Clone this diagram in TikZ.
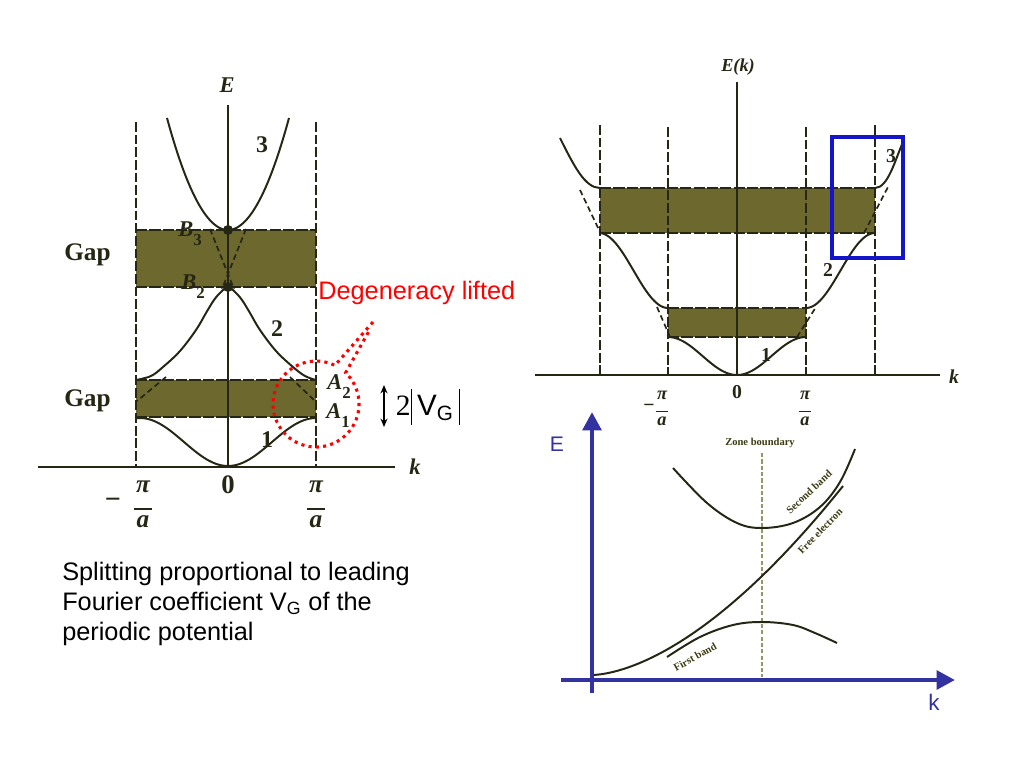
\documentclass[tikz,border=0pt]{standalone}
\usepackage{fontspec}
\setmainfont{Liberation Serif}
\setsansfont{Liberation Sans}
\usetikzlibrary{arrows.meta}
\definecolor{ink}{RGB}{38,38,20}
\definecolor{gapfill}{RGB}{108,104,46}
\definecolor{axblue}{RGB}{50,50,160}
\definecolor{boxblue}{RGB}{20,20,200}
\definecolor{zone}{RGB}{150,150,100}
\definecolor{lbl}{RGB}{60,60,20}
\newcommand\pxfont[1]{\fontsize{#1}{#1}\selectfont}
\newcommand\subl[1]{\raisebox{-0.4em}{\pxfont{12}\bfseries\upshape #1}}
\newcommand\pifrac{\bfseries\itshape\begin{tabular}{@{}c@{}}π\\[-0.32em]\rule{0.7em}{0.08em}\\[-0.28em]a\end{tabular}}
\begin{document}
\begin{tikzpicture}[x=0.025cm,y=-0.025cm,
  band/.style={ink,line width=1.4pt},
  zbline/.style={ink,line width=1.3pt,dash pattern=on 7pt off 2pt},
  feline/.style={ink,line width=1.2pt,dash pattern=on 4pt off 2.5pt},
  gapedge/.style={ink,line width=1.2pt,dash pattern=on 8pt off 1.5pt},
  axisline/.style={ink,line width=1.4pt},
  lab/.style={inner sep=0pt,text=ink},
  reddot/.style={red,line width=2.2pt,dash pattern=on 2.2pt off 3pt},
  blueaxis/.style={axblue,line width=3.5pt,-{Triangle[length=13pt,width=13pt]}},
  smalllab/.style={inner sep=0pt,text=lbl,font=\bfseries\pxfont{7.5}},
  sanstext/.style={inner sep=0pt,font=\sffamily\pxfont{18},anchor=base west}]
\fill[white] (0,0) rectangle (1024,768);
\useasboundingbox (0,0) rectangle (1024,768);

% ================= LEFT DIAGRAM =================
\fill[gapfill] (136,230) rectangle (316,287);
\fill[gapfill] (136,380) rectangle (316,417);
\draw[gapedge] (136,230) -- (316,230);
\draw[gapedge] (136,287) -- (316,287);
\draw[gapedge] (136,380) -- (316,380);
\draw[gapedge] (136,417) -- (316,417);
\draw[zbline] (136,122) -- (136,467);
\draw[zbline] (316,122) -- (316,467);
\draw[axisline] (228,105) -- (228,467);
\draw[axisline] (38,467) -- (395,467);
% band 3
\draw[band] plot[domain=167:289,samples=60] (\x,{230-112*((\x-228)/61)^2});
% band 2
\draw[band] plot[smooth,tension=0.6] coordinates {(136,380) (151,376) (163,367) (180,351) (196,330) (206,313) (214,300) (221,292) (228,287) (235,292) (242,300) (250,313) (260,330) (276,351) (293,367) (305,376) (316,380)};
% band 1
\draw[band] plot[domain=136:316,samples=60] (\x,{442+24*cos((\x-228)/88*180)});
% free electron dashed
\draw[feline] (210,229) -- (234,289);
\draw[feline] (246,229) -- (222,289);
\draw[feline] (166,377) -- (137,401);
\draw[feline] (290,377) -- (315,401);
\fill[ink] (228,230) circle[radius=5];
\fill[ink] (228,287) circle[radius=5];
% labels
\node[lab,font=\bfseries\itshape\pxfont{16}] (lE) at (227,85) {E};
\node[lab,font=\bfseries\pxfont{17}] (l3) at (262,145) {3};
\node[lab,font=\bfseries\pxfont{17}] (l2) at (277,329) {2};
\node[lab,font=\bfseries\pxfont{17}] (l1) at (267,440) {1};
\node[lab,font=\bfseries\pxfont{18},anchor=base west] (gap1) at (64,260) {Gap};
\node[lab,font=\bfseries\pxfont{18},anchor=base west] (gap2) at (64,406) {Gap};
\node[lab,font=\bfseries\itshape\pxfont{16}] (lB3) at (190,234) {B\subl{3}};
\node[lab,font=\bfseries\itshape\pxfont{16}] (lB2) at (193,287) {B\subl{2}};
\node[lab,font=\bfseries\itshape\pxfont{16}] (lA2) at (339,387) {A\subl{2}};
\node[lab,font=\bfseries\itshape\pxfont{16}] (lA1) at (338,416) {A\subl{1}};
\node[lab,font=\bfseries\itshape\pxfont{16}] (lk) at (415,467) {k};
\node[lab,font=\bfseries\pxfont{19}] (l0) at (228,485) {0};
\node[lab,font=\bfseries\pxfont{20}] (lminus) at (113,503) {−};
\node[lab,font=\pxfont{18}] (lfracL) at (143,505) {\pifrac};
\node[lab,font=\pxfont{18}] (lfracR) at (316,505) {\pifrac};

% degeneracy callout
\draw[reddot] (373,322) -- (334.9,365.4) arc[start angle=-64,end angle=-406.6,radius=43] -- (369,331);
\node[text=red,inner sep=0pt,font=\sffamily\pxfont{18},anchor=base west] (deg) at (318,299) {Degeneracy lifted};
\coordinate (vgtop) at (384,385);
\coordinate (vgbot) at (384,427);
\draw[black,line width=1pt,{Stealth[length=6pt,width=5pt]}-{Stealth[length=6pt,width=5pt]}] (vgtop) -- (vgbot);
\node[inner sep=0pt,font=\pxfont{21}] (vg) at (428,407) {2\rule[-0.3em]{0.05em}{1.2em}\,{\sffamily V\textsubscript{G}}\,\rule[-0.3em]{0.05em}{1.2em}};

% bottom text
\node[sanstext] (t1) at (62,580) {Splitting proportional to leading};
\node[sanstext] (t2) at (62,610) {Fourier coefficient V\textsubscript{G} of the};
\node[sanstext] (t3) at (62,640) {periodic potential};

% ================= TOP RIGHT DIAGRAM =================
\fill[gapfill] (600,188) rectangle (875,233);
\fill[gapfill] (668,308) rectangle (806,337);
\draw[gapedge] (600,188) -- (875,188);
\draw[gapedge] (600,233) -- (875,233);
\draw[gapedge] (668,308) -- (806,308);
\draw[gapedge] (668,337) -- (806,337);
\draw[zbline] (600,125) -- (600,375);
\draw[zbline] (875,125) -- (875,375);
\draw[zbline] (668,127) -- (668,375);
\draw[zbline] (806,127) -- (806,375);
\draw[axisline] (737,82) -- (737,375);
\draw[axisline] (535,375) -- (940,375);
\draw[band] plot[domain=668:806,samples=60] (\x,{356+19*cos((\x-737)/69*180)});
\draw[band] plot[domain=806:875,samples=40] (\x,{270.5+37.5*cos((\x-806)/69*180)});
\draw[band] plot[domain=600:668,samples=40] (\x,{270.5+37.5*cos((\x-668)/69*180)});
\draw[band] (600,188) .. controls (585,188) and (574,166) .. (560,138);
\draw[band] (875,188) .. controls (888,188) and (895,160) .. (903,142);
\draw[feline] (657,307) -- (670,337);
\draw[feline] (797,337) -- (816,307);
\draw[feline] (580,190) -- (600,232);
\draw[feline] (864,233) -- (888,187);
\draw[boxblue,line width=2.9pt] (832,137) rectangle (903,258);
\node[lab,font=\bfseries\itshape\pxfont{13}] (rE) at (738,67) {E(k)};
\node[lab,font=\bfseries\pxfont{14}] (r1) at (766,355) {1};
\node[lab,font=\bfseries\pxfont{14}] (r2) at (828,270) {2};
\node[lab,font=\bfseries\pxfont{14}] (r3) at (891,156) {3};
\node[lab,font=\bfseries\itshape\pxfont{14}] (rk) at (954,377) {k};
\node[lab,font=\bfseries\pxfont{14}] (r0) at (737,392) {0};
\node[lab,font=\bfseries\pxfont{14}] (rminus) at (649,408) {−};
\node[lab,font=\pxfont{13}] (rfracL) at (662,409) {\pifrac};
\node[lab,font=\pxfont{13}] (rfracR) at (805,409) {\pifrac};

% ================= BOTTOM RIGHT DIAGRAM =================
\coordinate (vax0) at (592,693);
\coordinate (vax1) at (592,412);
\coordinate (hax0) at (561,680);
\coordinate (hax1) at (955,680);
\draw[zone,line width=1.3pt,dash pattern=on 3pt off 1.5pt] (762,453) -- (762,677);
\draw[band] plot[domain=593:843,samples=60] (\x,{675-0.01964*(\x-592)^1.66});
\draw[band] plot[smooth,tension=0.6] coordinates {(673,468) (707,503) (737,523) (762,528) (793,523) (820,507) (840,482) (855,449)};
\draw[band] plot[smooth,tension=0.6] coordinates {(667,657) (700,637) (733,625) (762,622) (793,625) (815,633) (837,643)};
\draw[blueaxis] (vax0) -- (vax1);
\draw[blueaxis] (hax0) -- (hax1);
\node[text=axblue,inner sep=0pt,font=\sffamily\pxfont{15}] (bE) at (557,444) {E};
\node[text=axblue,inner sep=0pt,font=\sffamily\pxfont{16}] (bk) at (934,702) {k};
\node[smalllab] (zbl) at (760,443) {Zone boundary};
\node[smalllab,rotate=43] (sbl) at (809,492) {Second band};
\node[smalllab,rotate=46] (fel) at (820,531) {Free electron};
\node[smalllab,rotate=29] (fbl) at (695,657) {First band};
\end{tikzpicture}
\end{document}
